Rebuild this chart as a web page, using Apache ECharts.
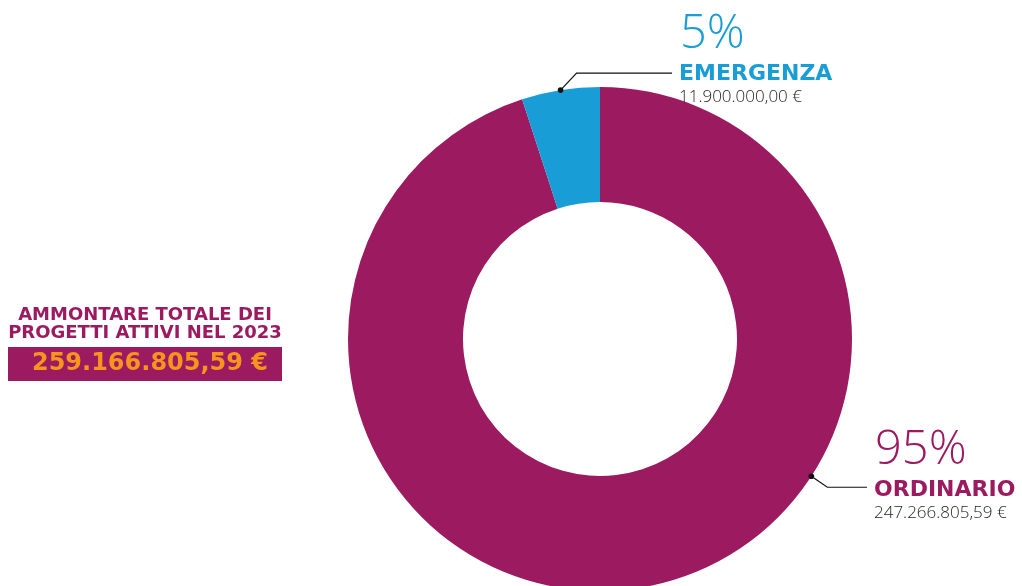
<!DOCTYPE html>
<html lang="it">
<head>
    <meta charset="UTF-8">
    <title>Progetti attivi 2023</title>
    <style>
        * { margin: 0; padding: 0; }
        #chart { width: 1022px; height: 586px; background: #fff; }
    </style>
</head>
<body>
    <div id="chart"></div>
    <script src="https://cdn.jsdelivr.net/npm/echarts@6/dist/echarts.min.js"></script>
    <script>
        var categories = ['ORDINARIO', 'EMERGENZA'];
        var percents = [95, 5];
        var amountLabels = ['247.266.805,59 €', '11.900.000,00 €'];
        var totalTitle = ['AMMONTARE TOTALE DEI', 'PROGETTI ATTIVI NEL 2023'];
        var totalLabel = '259.166.805,59 €';

        var colors = ['#9c1a5f', '#189dd7'];
        var cx = 600, cy = 339, rIn = 137, rOut = 252;
        var boldFont = 'DejaVu Sans';

        // where the leader line touches the ring (deg), emergenza uses its mid angle
        function anchorAngle(i) {
            if (i === 0) return -33;
            var start = 90 - percents[0] / 100 * 360;
            return start - percents[1] / 100 * 180 + 360;
        }
        function anchorPoint(i) {
            var a = anchorAngle(i) * Math.PI / 180;
            return [cx + rOut * Math.cos(a), cy - rOut * Math.sin(a)];
        }

        var labelPos = [[873, 424], [678, 8]];

        var chart = echarts.init(document.getElementById('chart'));

        var dots = [0, 1].map(function (i) {
            var p = anchorPoint(i);
            return {
                type: 'circle',
                shape: { cx: p[0], cy: p[1], r: 2.8 },
                style: { fill: '#111' },
                z: 100
            };
        });

        var option = {
            animation: false,
            graphic: [
                {
                    type: 'text',
                    x: 145, y: 306,
                    style: {
                        text: totalTitle.join('\n'),
                        fill: '#9c1a5f',
                        font: 'bold 18px "DejaVu Sans"',
                        lineHeight: 18,
                        textAlign: 'center'
                    }
                },
                {
                    type: 'rect',
                    shape: { x: 8, y: 347, width: 274, height: 34 },
                    style: { fill: '#9c1a5f' }
                },
                {
                    type: 'text',
                    x: 150, y: 364,
                    style: {
                        text: totalLabel,
                        fill: '#f7941d',
                        font: 'bold 24px "DejaVu Sans"',
                        textAlign: 'center',
                        textVerticalAlign: 'middle'
                    }
                }
            ].concat(dots),
            series: [{
                type: 'pie',
                center: [cx, cy],
                radius: [rIn, rOut],
                startAngle: 90,
                clockwise: true,
                avoidLabelOverlap: false,
                silent: true,
                emphasis: { disabled: true },
                data: categories.map(function (c, i) {
                    return { name: c, value: percents[i], itemStyle: { color: colors[i] } };
                }),
                label: {
                    show: true,
                    position: 'outside',
                    formatter: function (p) {
                        var k = p.dataIndex === 0 ? 'o' : 'e';
                        return '{' + k + 'p|' + percents[p.dataIndex] + '%}\n{' + k + 'n|' + p.name + '}\n{v|' + amountLabels[p.dataIndex] + '}';
                    },
                    rich: {
                        op: { fontFamily: 'Open Sans', fontWeight: 300, fontSize: 47, lineHeight: 54, color: '#9c1a5f', padding: [0, 0, 0, 2] },
                        ep: { fontFamily: 'Open Sans', fontWeight: 300, fontSize: 47, lineHeight: 54, color: '#189dd7', padding: [0, 0, 0, 2] },
                        on: { fontFamily: boldFont, fontWeight: 'bold', fontSize: 22, lineHeight: 24, color: '#9c1a5f', padding: [0, 0, 0, 1] },
                        en: { fontFamily: boldFont, fontWeight: 'bold', fontSize: 22, lineHeight: 24, color: '#189dd7', padding: [0, 0, 0, 1] },
                        v: { fontFamily: 'Open Sans', fontWeight: 300, fontSize: 17, lineHeight: 22, color: '#1e1e1e', padding: [0, 0, 0, 1] }
                    }
                },
                labelLine: {
                    show: true,
                    length: 10,
                    length2: 10,
                    lineStyle: { color: '#111', width: 1.2 }
                },
                labelLayout: function (params) {
                    var i = params.dataIndex;
                    var p = anchorPoint(i);
                    var pts;
                    if (i === 1) {
                        pts = [p, [p[0] + 16, p[1] - 17], [labelPos[i][0] - 6, p[1] - 17]];
                    } else {
                        pts = [p, [p[0] + 16, p[1] + 11], [labelPos[i][0] - 6, p[1] + 11]];
                    }
                    return {
                        x: labelPos[i][0],
                        y: labelPos[i][1],
                        align: 'left',
                        verticalAlign: 'top',
                        labelLinePoints: pts
                    };
                }
            }]
        };
        chart.setOption(option);
    </script>
</body>
</html>
